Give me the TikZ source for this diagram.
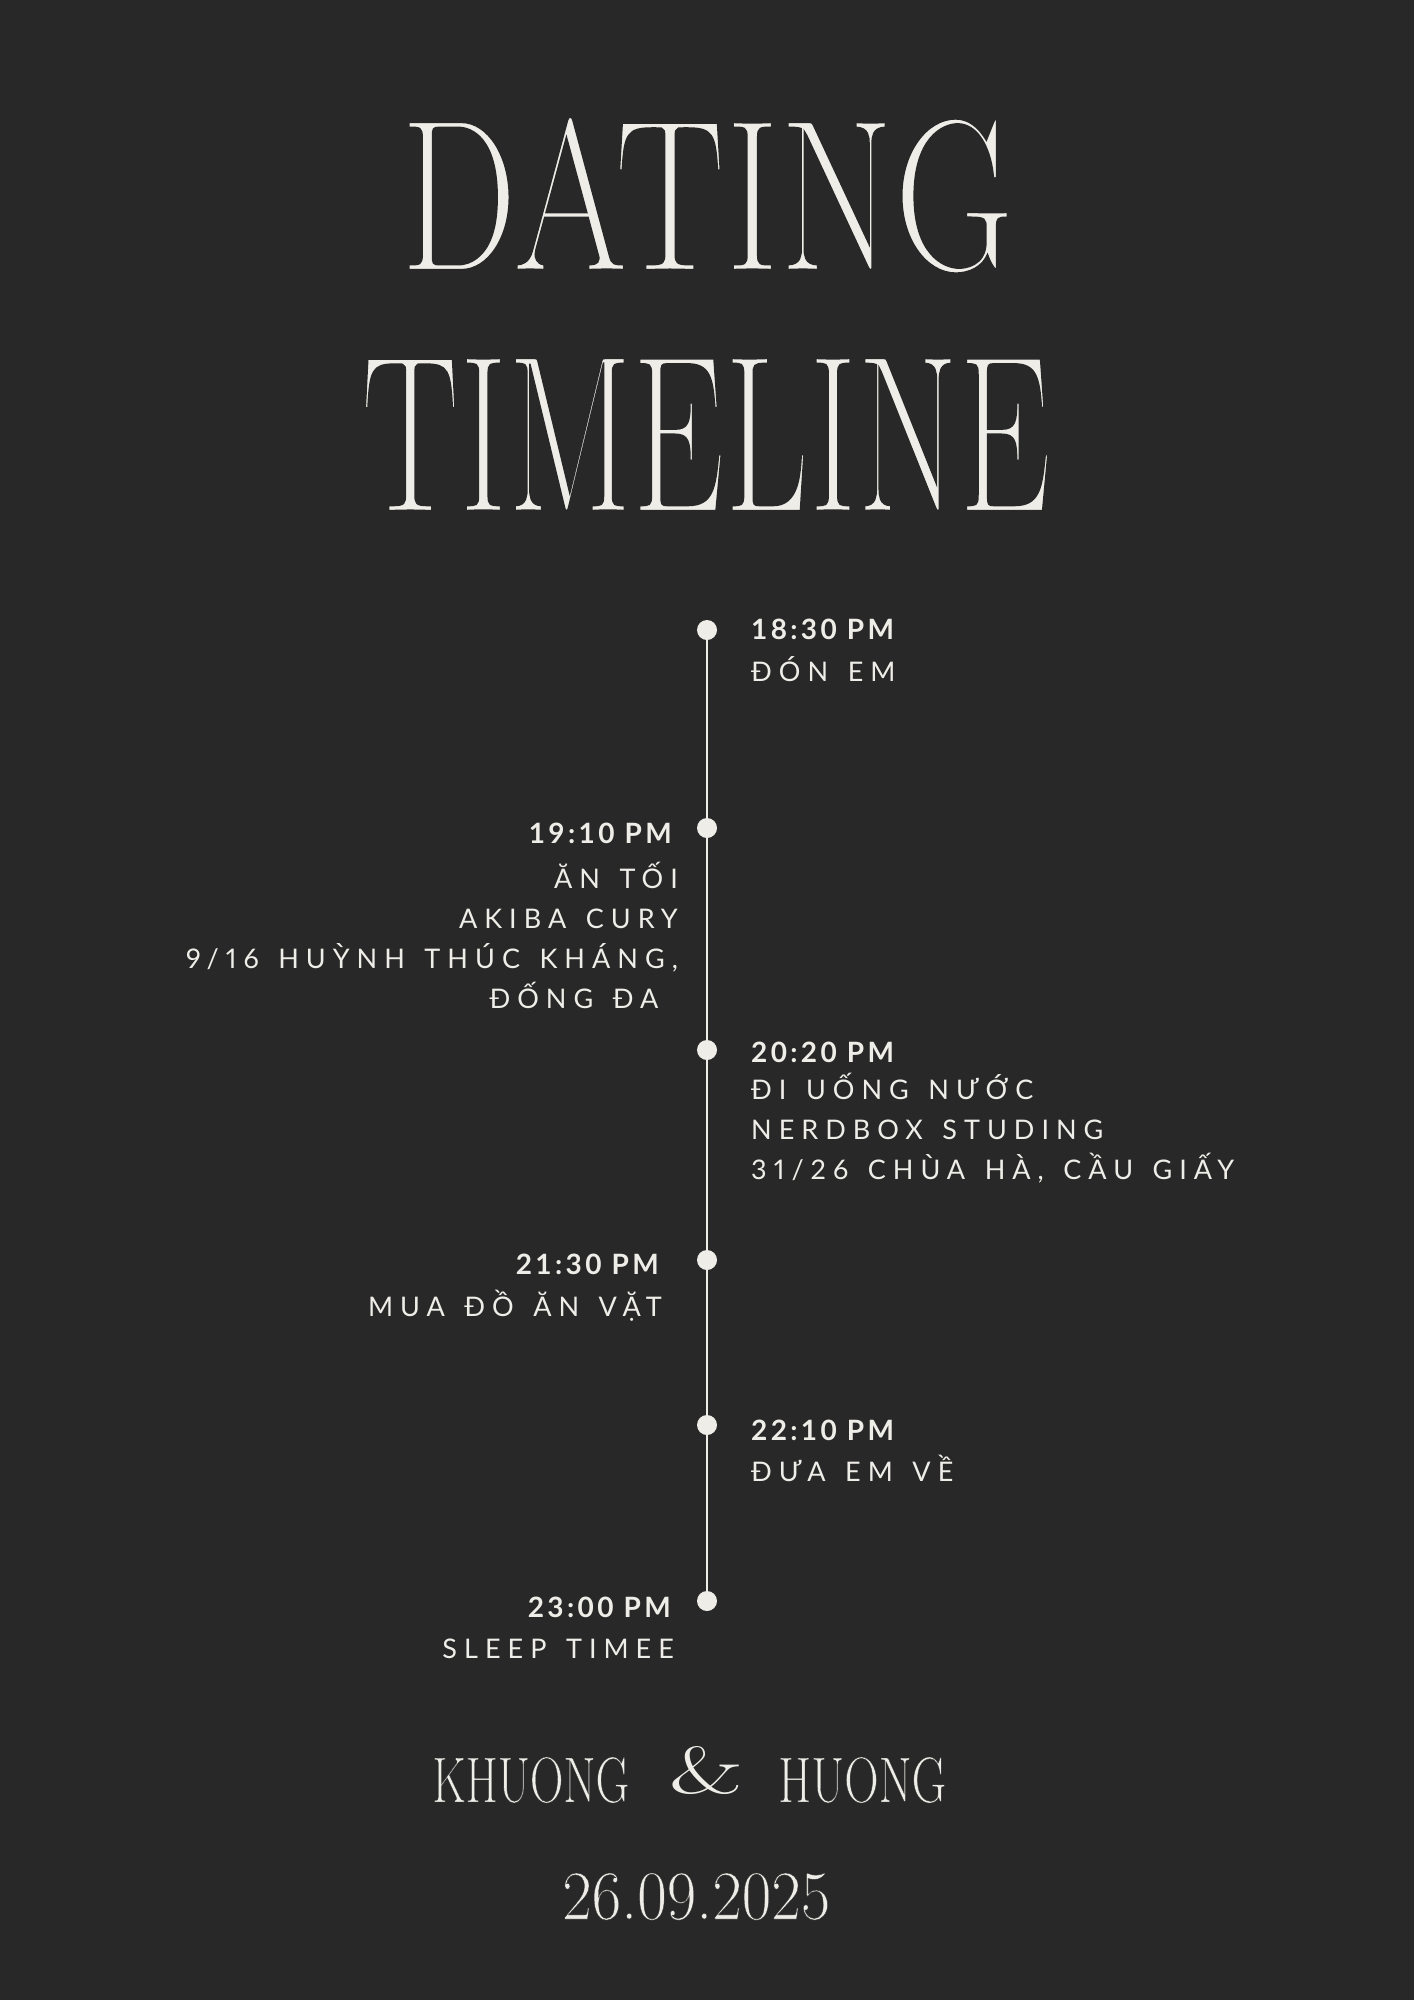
\documentclass[tikz,border=0pt]{standalone}
\usepackage{fontspec}
\usepackage{graphicx}
\newfontfamily\titlefont{lmroman17-regular}[Extension=.otf]
\newfontfamily\timefont{Lato}[LetterSpace=12]
\newfontfamily\bodyfont{Lato}[LetterSpace=26,WordSpace=1.4,Numbers=Proportional]
\definecolor{bg}{RGB}{40,40,40}
\definecolor{ink}{RGB}{238,237,232}
% thin the display letters by stroking them in the background colour
\newcommand\thin[2]{\special{pdf:literal direct 2 Tr #1 w 0.157 0.157 0.157 RG}#2\special{pdf:literal direct 0 Tr}}

\begin{document}
\begin{tikzpicture}[x=1pt,y=-1pt,
  dot/.style={circle,fill=ink,inner sep=0pt,minimum size=20pt},
  hour/.style={text=ink,inner sep=0pt,font=\timefont\bfseries\fontsize{28}{40}\selectfont},
  what/.style={text=ink,inner sep=0pt,font=\bodyfont\fontsize{27}{40}\selectfont},
  big/.style={text=ink,inner sep=0pt,anchor=base west}]
\fill[bg] (0,0) rectangle (1414,2000);
\node[big] (dating) at (400,270) {\resizebox{613pt}{153pt}{\titlefont\thin{0.1}{DATING}}};
\node[big] (timeline) at (361,511) {\resizebox{689pt}{153pt}{\titlefont\thin{0.1}{TIMELINE}}};
\node[dot] (d1) at (707,630) {};
\node[dot] (d2) at (707,828) {};
\node[dot] (d3) at (707,1050) {};
\node[dot] (d4) at (707,1260) {};
\node[dot] (d5) at (707,1425) {};
\node[dot] (d6) at (707,1601) {};
\draw[ink,line width=2pt] (d1) -- (d6);
\node[hour,anchor=base west] (t1) at (751,639) {18:30 PM};
\node[what,anchor=base west] (e1) at (751,681) {ĐÓN EM};
\node[hour,anchor=base east] (t2) at (672,843) {19:10 PM};
\node[what,anchor=base east,align=right] (e2) at (678,1008) {ĂN TỐI\\AKIBA CURY\\9/16 HUỲNH THÚC KHÁNG,\\ĐỐNG ĐA\ \mbox{}};
\node[hour,anchor=base west] (t3) at (751,1062) {20:20 PM};
\node[what,anchor=base west,align=left] (e3) at (751,1179) {ĐI UỐNG NƯỚC\\NERDBOX STUDING\\31/26 CHÙA HÀ, CẦU GIẤY};
\node[hour,anchor=base east] (t4) at (659,1274) {21:30 PM};
\node[what,anchor=base east] (e4) at (662,1316.5) {MUA ĐỒ ĂN VẶT};
\node[hour,anchor=base west] (t5) at (751,1440) {22:10 PM};
\node[what,anchor=base west] (e5) at (751,1481) {ĐƯA EM VỀ};
\node[hour,anchor=base east] (t6) at (671,1617) {23:00 PM};
\node[what,anchor=base east] (e6) at (674,1658) {SLEEP TIMEE};
% names and date
\node[big] (he) at (432,1802) {\resizebox{197pt}{45pt}{\titlefont\thin{0.04}{KHUONG}}};
\node[text=ink,inner sep=0pt] (amp) at (707,1770) {\resizebox{74pt}{47pt}{\titlefont\itshape\&}};
\node[big] (she) at (778,1802) {\resizebox{168pt}{45pt}{\titlefont\thin{0.04}{HUONG}}};
\node[big] (date) at (562,1919) {\resizebox{268pt}{46pt}{\titlefont\thin{0.04}{26.09.2025}}};
\end{tikzpicture}
\end{document}
